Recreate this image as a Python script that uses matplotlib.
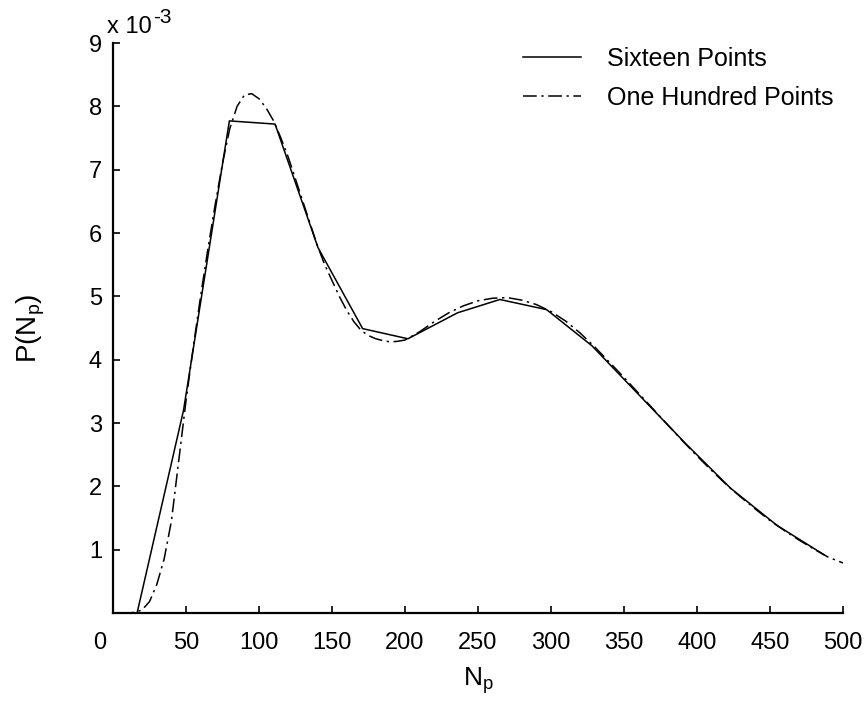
import numpy as np
import matplotlib.pyplot as plt
from matplotlib.transforms import ScaledTranslation

plt.rcParams['font.family'] = ['Liberation Sans', 'DejaVu Sans']
plt.rcParams['mathtext.fontset'] = 'custom'
plt.rcParams['mathtext.rm'] = 'Liberation Sans'
plt.rcParams['mathtext.it'] = 'Liberation Sans:italic'

# sixteen point solution (P in units of 1e-3)
n_16 = [16.5, 48.3, 79.7, 111, 140.4, 171, 202, 236, 265, 297, 328, 360, 392, 423, 455, 487]
p_16 = [0.0, 3.2, 7.77, 7.72, 5.77, 4.49, 4.33, 4.74, 4.95, 4.79, 4.22, 3.45, 2.68, 1.97, 1.38, 0.92]

# one hundred point solution
n_100 = [5, 10, 15, 20, 25, 30, 35, 40, 45, 50, 55, 60, 65, 70, 75, 80, 85, 90, 95,
         100, 105, 110, 115, 120, 125, 130, 135, 140, 145, 150, 155, 160, 165, 170,
         175, 180, 185, 190, 195, 200, 210, 220, 230, 240, 250, 260, 270, 280, 290,
         300, 310, 320, 330, 340, 350, 360, 370, 380, 390, 400, 410, 420, 430, 440,
         450, 460, 470, 480, 490, 500]
p_100 = [0.0, 0.0, 0.01, 0.05, 0.18, 0.45, 0.85, 1.45, 2.4, 3.35, 4.2, 5.0, 5.75,
         6.45, 7.1, 7.65, 8.0, 8.18, 8.2, 8.12, 7.97, 7.77, 7.5, 7.2, 6.85, 6.5, 6.15,
         5.8, 5.5, 5.25, 5.0, 4.78, 4.6, 4.46, 4.38, 4.33, 4.3, 4.28, 4.29, 4.31,
         4.44, 4.6, 4.74, 4.85, 4.93, 4.97, 4.98, 4.94, 4.87, 4.76, 4.61, 4.42, 4.2,
         3.96, 3.72, 3.47, 3.22, 2.97, 2.72, 2.48, 2.25, 2.03, 1.83, 1.64, 1.46, 1.3,
         1.15, 1.01, 0.88, 0.79]

fig = plt.figure(figsize=(8.68, 7.08), dpi=100)
ax = fig.add_axes([113/868, 1-613/708, 730/868, 570/708])

ax.plot(n_16, np.array(p_16)*1e-3, color='black', lw=1.1, label='Sixteen Points')
ax.plot(n_100, np.array(p_100)*1e-3, color='black', lw=1.1, ls=(0, (9, 3, 1.5, 3)),
        label='One Hundred Points')

ax.set_xlim(0, 500)
ax.set_ylim(0, 9e-3)
ax.set_xticks(np.arange(0, 501, 50))
ax.set_yticks(np.arange(1, 10)*1e-3)
ax.set_yticklabels([str(i) for i in range(1, 10)])
ax.spines['top'].set_visible(False)
ax.spines['right'].set_visible(False)
for s in ['left', 'bottom']:
    ax.spines[s].set_linewidth(1.6)
ax.tick_params(direction='in', length=5, width=1.2, labelsize=17)
ax.tick_params(axis='x', pad=14)
ax.tick_params(axis='y', pad=8)

# shift the 0 label left like the original
lab0 = ax.get_xticklabels()[0]
lab0.set_transform(lab0.get_transform() + ScaledTranslation(-13/100, 0, fig.dpi_scale_trans))

ax.set_xlabel(r'N$_\mathrm{p}$', fontsize=19, labelpad=8)
ax.set_ylabel(r'P(N$_\mathrm{p}$)', fontsize=20, labelpad=30)

fig.text(107/868, 1-33/708, 'x 10', fontsize=17, va='baseline', ha='left')
fig.text(153/868, 1-23/708, '-3', fontsize=15, va='baseline', ha='left')

ax.legend(loc='upper left', bbox_to_anchor=(523/868, 1-47/708), bbox_transform=fig.transFigure,
          frameon=False, fontsize=18, handlelength=2.3, handletextpad=1.05,
          labelspacing=0.6, borderpad=0, borderaxespad=0)

fig.savefig('out.png', dpi=100)
